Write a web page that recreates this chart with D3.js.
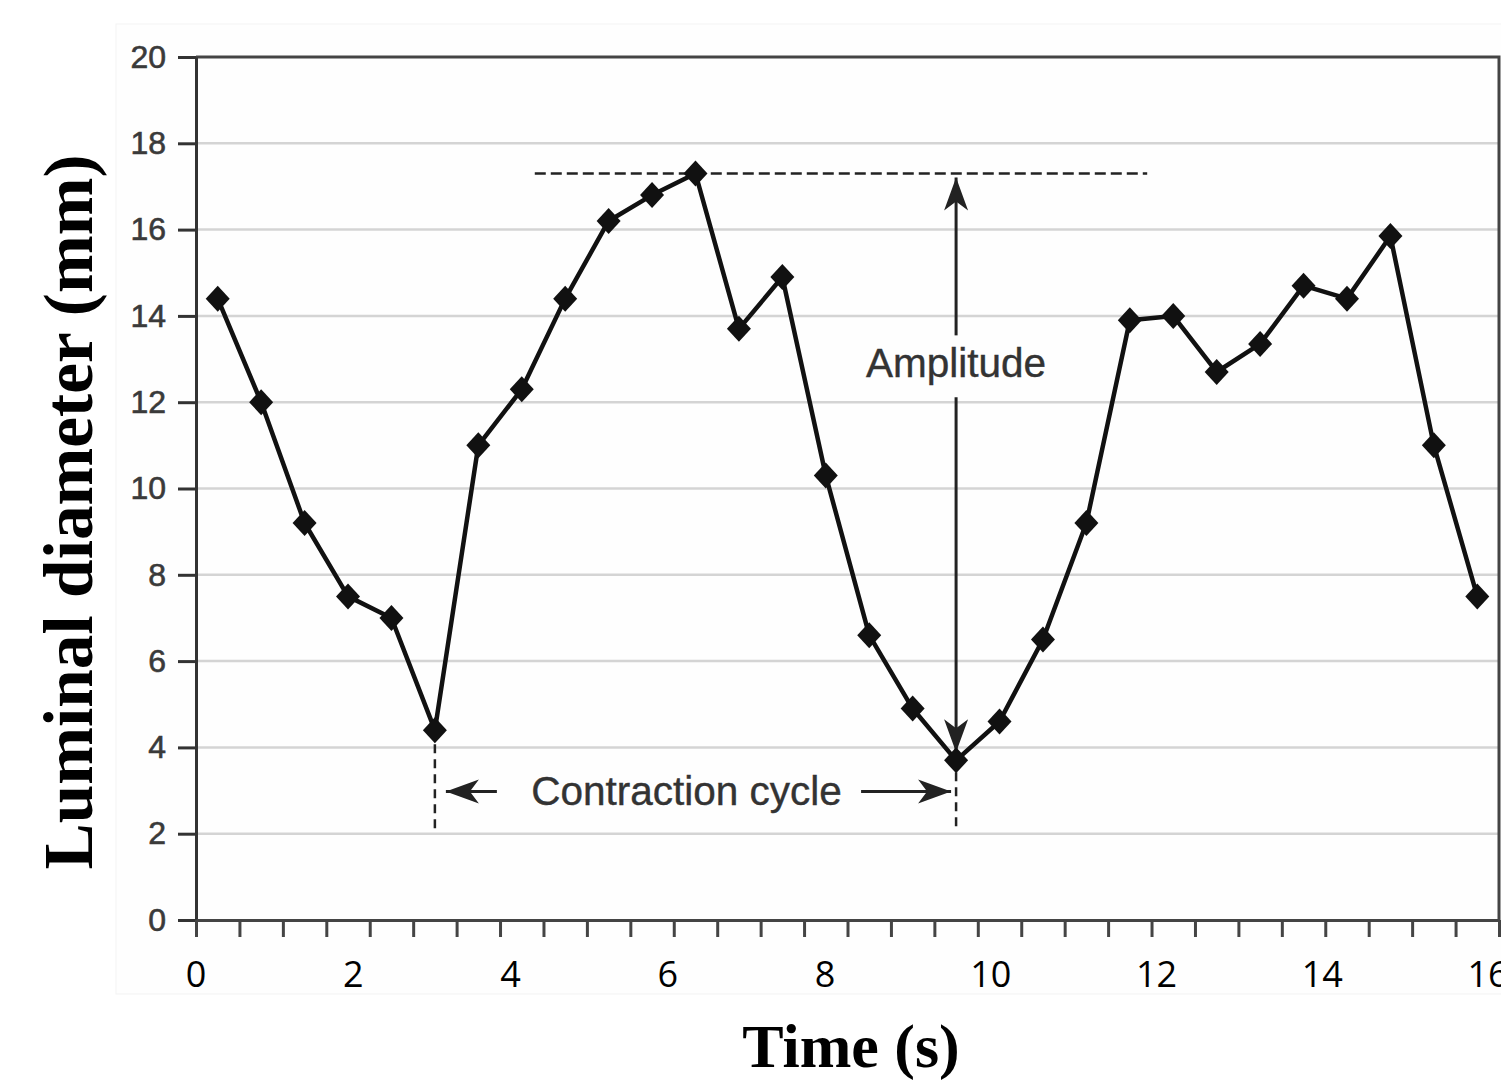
<!DOCTYPE html>
<html>
<head>
<meta charset="utf-8">
<script src="https://cdn.jsdelivr.net/npm/d3@7"></script>
<style>
  body { margin: 0; background: #fff; }
  .ylab text { font-family: "Liberation Sans", Arial, sans-serif; font-size: 32px; fill: #3a3a3a; stroke: #3a3a3a; stroke-width: 0.6px; }
</style>
</head>
<body>
<div id="chart"></div>
<script>
// samples (one every ~0.53 s) and luminal diameter in mm
var samples = [1, 2, 3, 4, 5, 6, 7, 8, 9, 10, 11, 12, 13, 14, 15,
  16, 17, 18, 19, 20, 21, 22, 23, 24, 25, 26, 27, 28, 29, 30];
var diameter = [14.4, 12.0, 9.2, 7.5, 7.0, 4.4, 11.0, 12.3, 14.4, 16.2,
  16.8, 17.3, 13.7, 14.9, 10.3, 6.6, 4.9, 3.7, 4.6, 6.5,
  9.2, 13.9, 14.0, 12.7, 13.35, 14.7, 14.4, 15.85, 11.0, 7.5];
var yTicks = [0, 2, 4, 6, 8, 10, 12, 14, 16, 18, 20];
var timeTicks = [0, 2, 4, 6, 8, 10, 12, 14, 16];

// annotation anchors (sample numbers)
var cycleStart = 6;
var cycleEnd = 18;
var ampLineFrom = 7.8;
var ampLineTo = 21.9;

var svgWidth = 1501;
var svgHeight = 1082;
var margin = { top: 57, right: 2, bottom: 162, left: 196 };
var width = svgWidth - margin.left - margin.right;
var height = svgHeight - margin.top - margin.bottom;

var svg = d3.select("#chart")
  .append("svg")
  .attr("width", svgWidth)
  .attr("height", svgHeight);

// faint pasted-image backdrop
svg.append("rect")
  .attr("x", 116).attr("y", 24)
  .attr("width", 1390).attr("height", 970)
  .attr("fill", "#fefefe")
  .attr("stroke", "#f3f3f3");

var chartGroup = svg.append("g")
  .attr("transform", `translate(${margin.left}, ${margin.top})`);

// x: sample edges 0..30, points sit mid-band
var xScale = d3.scaleLinear().domain([0, 30]).range([0, width]);
var px = function (s) { return xScale(s - 0.5); };

// time labels overlaid on the axis
var timeScale = d3.scaleLinear().domain([0, 8, 16]).range([0, 629, 1292]);

var yScale = d3.scaleLinear().domain([0, 20]).range([height, 0]);

// grid lines
chartGroup.append("g")
  .selectAll("line")
  .data(yTicks.slice(1, -1))
  .enter()
  .append("line")
  .attr("x1", 0).attr("x2", width)
  .attr("y1", d => yScale(d)).attr("y2", d => yScale(d))
  .attr("stroke", "#d4d4d4")
  .attr("stroke-width", 2.5);

// frame (top and right)
chartGroup.append("path")
  .attr("d", `M0,0H${width}V${height}`)
  .attr("fill", "none")
  .attr("stroke", "#444")
  .attr("stroke-width", 3);

// y axis
var leftAxis = d3.axisLeft(yScale).tickValues(yTicks).tickSize(18).tickSizeOuter(0).tickPadding(12);
var yAxis = chartGroup.append("g").classed("ylab", true).call(leftAxis);
yAxis.select(".domain").attr("stroke", "#333").attr("stroke-width", 3);
yAxis.selectAll(".tick line").attr("stroke", "#333").attr("stroke-width", 3);

// x axis (ticks between samples)
var bottomAxis = d3.axisBottom(xScale).tickValues(d3.range(0, 31)).tickSize(17).tickSizeOuter(0).tickFormat("");
var xAxis = chartGroup.append("g")
  .attr("transform", `translate(0, ${height})`)
  .call(bottomAxis);
xAxis.select(".domain").attr("stroke", "#444").attr("stroke-width", 3);
xAxis.selectAll(".tick line").attr("stroke", "#444").attr("stroke-width", 3);

// time labels
chartGroup.append("g")
  .selectAll("text")
  .data(timeTicks)
  .enter()
  .append("text")
  .attr("x", d => timeScale(d))
  .attr("y", height + 67)
  .attr("text-anchor", "middle")
  .attr("font-family", "'Open Sans', 'Noto Sans', sans-serif")
  .attr("font-size", 36)
  .attr("fill", "#000")
  .text(d => d);

// arrow marker
var defs = svg.append("defs");
defs.append("marker")
  .attr("id", "arrow")
  .attr("markerUnits", "userSpaceOnUse")
  .attr("viewBox", "-34 -14 36 28")
  .attr("refX", 0).attr("refY", 0)
  .attr("markerWidth", 36).attr("markerHeight", 28)
  .attr("orient", "auto")
  .append("path")
  .attr("d", "M0,0L-33,-12L-24,0L-33,12Z")
  .attr("fill", "#222");

var annot = chartGroup.append("g");
var peak = d3.max(diameter);
var trough = diameter[cycleEnd - 1];

// amplitude reference line
annot.append("line")
  .attr("x1", xScale(ampLineFrom)).attr("x2", xScale(ampLineTo))
  .attr("y1", yScale(peak)).attr("y2", yScale(peak))
  .attr("stroke", "#222")
  .attr("stroke-width", 2.5)
  .attr("stroke-dasharray", "11,5");

// amplitude arrows
var ampX = px(cycleEnd);
var ampLabelY = yScale(12.9);
annot.append("line")
  .attr("x1", ampX).attr("x2", ampX)
  .attr("y1", ampLabelY - 28).attr("y2", yScale(peak) + 4)
  .attr("stroke", "#222").attr("stroke-width", 3)
  .attr("marker-end", "url(#arrow)");
annot.append("line")
  .attr("x1", ampX).attr("x2", ampX)
  .attr("y1", ampLabelY + 34).attr("y2", yScale(trough) - 8)
  .attr("stroke", "#222").attr("stroke-width", 3)
  .attr("marker-end", "url(#arrow)");
annot.append("text")
  .attr("x", ampX)
  .attr("y", ampLabelY + 14)
  .attr("text-anchor", "middle")
  .attr("font-family", "'Liberation Sans', Arial, sans-serif")
  .attr("font-size", 40.5)
  .attr("fill", "#333")
  .attr("stroke", "#333")
  .attr("stroke-width", 0.4)
  .text("Amplitude");

// contraction cycle markers
[cycleStart, cycleEnd].forEach(function (s) {
  annot.append("line")
    .attr("x1", px(s)).attr("x2", px(s))
    .attr("y1", yScale(diameter[s - 1]) + (s === cycleEnd ? 12 : 14)).attr("y2", yScale(2.1))
    .attr("stroke", "#222")
    .attr("stroke-width", 2.5)
    .attr("stroke-dasharray", "9,6");
});
var cycY = yScale(2.98);
annot.append("line")
  .attr("x1", px(cycleStart) + 62).attr("x2", px(cycleStart) + 11)
  .attr("y1", cycY).attr("y2", cycY)
  .attr("stroke", "#222").attr("stroke-width", 3)
  .attr("marker-end", "url(#arrow)");
annot.append("line")
  .attr("x1", px(cycleEnd) - 95).attr("x2", px(cycleEnd) - 5)
  .attr("y1", cycY).attr("y2", cycY)
  .attr("stroke", "#222").attr("stroke-width", 3)
  .attr("marker-end", "url(#arrow)");
annot.append("text")
  .attr("x", (px(cycleStart) + px(cycleEnd)) / 2 - 9)
  .attr("y", cycY + 14)
  .attr("text-anchor", "middle")
  .attr("font-family", "'Liberation Sans', Arial, sans-serif")
  .attr("font-size", 40.5)
  .attr("fill", "#333")
  .attr("stroke", "#333")
  .attr("stroke-width", 0.4)
  .text("Contraction cycle");

// data line
var line = d3.line()
  .x((d, i) => px(samples[i]))
  .y(d => yScale(d));

chartGroup.append("path")
  .datum(diameter)
  .attr("d", line)
  .attr("fill", "none")
  .attr("stroke", "#111")
  .attr("stroke-width", 4.5)
  .attr("stroke-linejoin", "round");

// diamond markers
chartGroup.selectAll(".pt")
  .data(diameter)
  .enter()
  .append("path")
  .classed("pt", true)
  .attr("transform", (d, i) => `translate(${px(samples[i])}, ${yScale(d)})`)
  .attr("d", "M0,-13L12,0L0,13L-12,0Z")
  .attr("fill", "#111");

// axis titles
svg.append("text")
  .attr("x", 851)
  .attr("y", 1067)
  .attr("text-anchor", "middle")
  .attr("font-family", "'Liberation Serif', 'Times New Roman', serif")
  .attr("font-weight", "bold")
  .attr("font-size", 62)
  .text("Time (s)");

svg.append("text")
  .attr("transform", "translate(92, 512) rotate(-90)")
  .attr("text-anchor", "middle")
  .attr("font-family", "'Liberation Serif', 'Times New Roman', serif")
  .attr("font-weight", "bold")
  .attr("font-size", 70)
  .attr("textLength", 715)
  .attr("lengthAdjust", "spacingAndGlyphs")
  .text("Luminal diameter (mm)");
</script>
</body>
</html>
